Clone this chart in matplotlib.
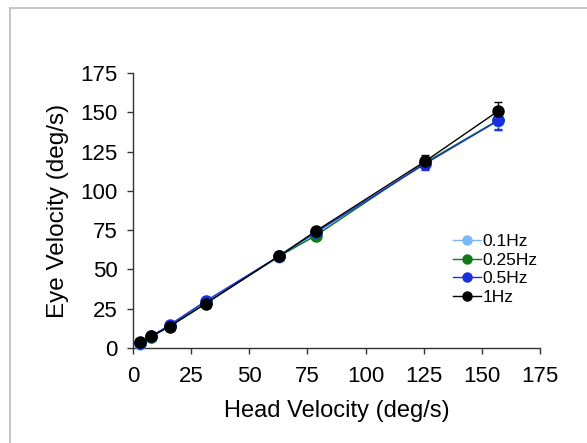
import numpy as np
import matplotlib.pyplot as plt
from matplotlib.lines import Line2D

plt.rcParams['font.family'] = ['Liberation Sans', 'DejaVu Sans']

head = [3.14, 7.85, 15.7, 31.4, 62.8, 78.5, 125.6, 157.0]
labels = ['0.1Hz', '0.25Hz', '0.5Hz', '1Hz']
colors = ['#7ab8f5', '#137a1a', '#1a2fe0', '#000000']
eye = {
    '0.1Hz':  [2.6, 7.0, 14.2, 29.3, 58.0, 72.5, 117.5, 144.5],
    '0.25Hz': [3.2, 7.2, 13.9, 28.6, 58.3, 71.4, 118.0, 145.0],
    '0.5Hz':  [3.3, 7.4, 14.7, 30.0, 58.5, 73.6, 117.2, 144.8],
    '1Hz':    [3.6, 7.4, 13.6, 28.3, 58.6, 74.3, 118.8, 150.8],
}
err = {
    '0.1Hz':  [0.5, 0.5, 0.8, 1.0, 1.2, 1.5, 3.5, 5.5],
    '0.25Hz': [0.5, 0.5, 0.8, 1.0, 1.2, 1.5, 3.5, 5.5],
    '0.5Hz':  [0.5, 0.5, 0.8, 1.0, 1.2, 1.5, 4.0, 6.0],
    '1Hz':    [0.5, 0.5, 0.8, 1.0, 1.2, 1.5, 4.0, 5.5],
}

fig = plt.figure(figsize=(5.87, 4.43), dpi=100)
ax = fig.add_axes([133/587, 1-348/443, (540-133)/587, (348-73)/443])

for lab, col in zip(labels, colors):
    ax.errorbar(head, eye[lab], yerr=err[lab], color=col, marker='o',
                markersize=8, linewidth=1, elinewidth=1, capsize=3,
                ecolor=col, label=lab, clip_on=False, zorder=3)

ax.set_xlim(0, 175)
ax.set_ylim(0, 175)
ax.set_xticks(np.arange(0, 176, 25))
ax.set_yticks(np.arange(0, 176, 25))
for s in ['top', 'right']:
    ax.spines[s].set_visible(False)
for s in ['left', 'bottom']:
    ax.spines[s].set_color('#333333')
    ax.spines[s].set_linewidth(1)
ax.tick_params(direction='out', length=4, width=1, color='#333333',
               labelsize=16)
ax.tick_params(axis='x', pad=9)
ax.tick_params(axis='y', pad=7)
ax.set_xlabel('Head Velocity (deg/s)', fontsize=17, labelpad=9)
ax.set_ylabel('Eye Velocity (deg/s)', fontsize=17.5, labelpad=8)

handles = [Line2D([0], [0], color=c, marker='o', markersize=6.5, linewidth=1)
           for c in colors]
ax.legend(handles, labels, loc='upper left', bbox_to_anchor=(0.77, 0.44),
          frameon=False, fontsize=12.5, handlelength=1.6, handletextpad=0.1,
          labelspacing=0.2, borderaxespad=0)

# partial gray frame around the figure
fig.add_artist(Line2D([10/587, 10/587], [0, 1-8/443], color='#bbbbbb',
                      linewidth=1.2, transform=fig.transFigure))
fig.add_artist(Line2D([10/587, 1], [1-8/443, 1-8/443], color='#bbbbbb',
                      linewidth=1.2, transform=fig.transFigure))

fig.savefig('out.png', dpi=100)
